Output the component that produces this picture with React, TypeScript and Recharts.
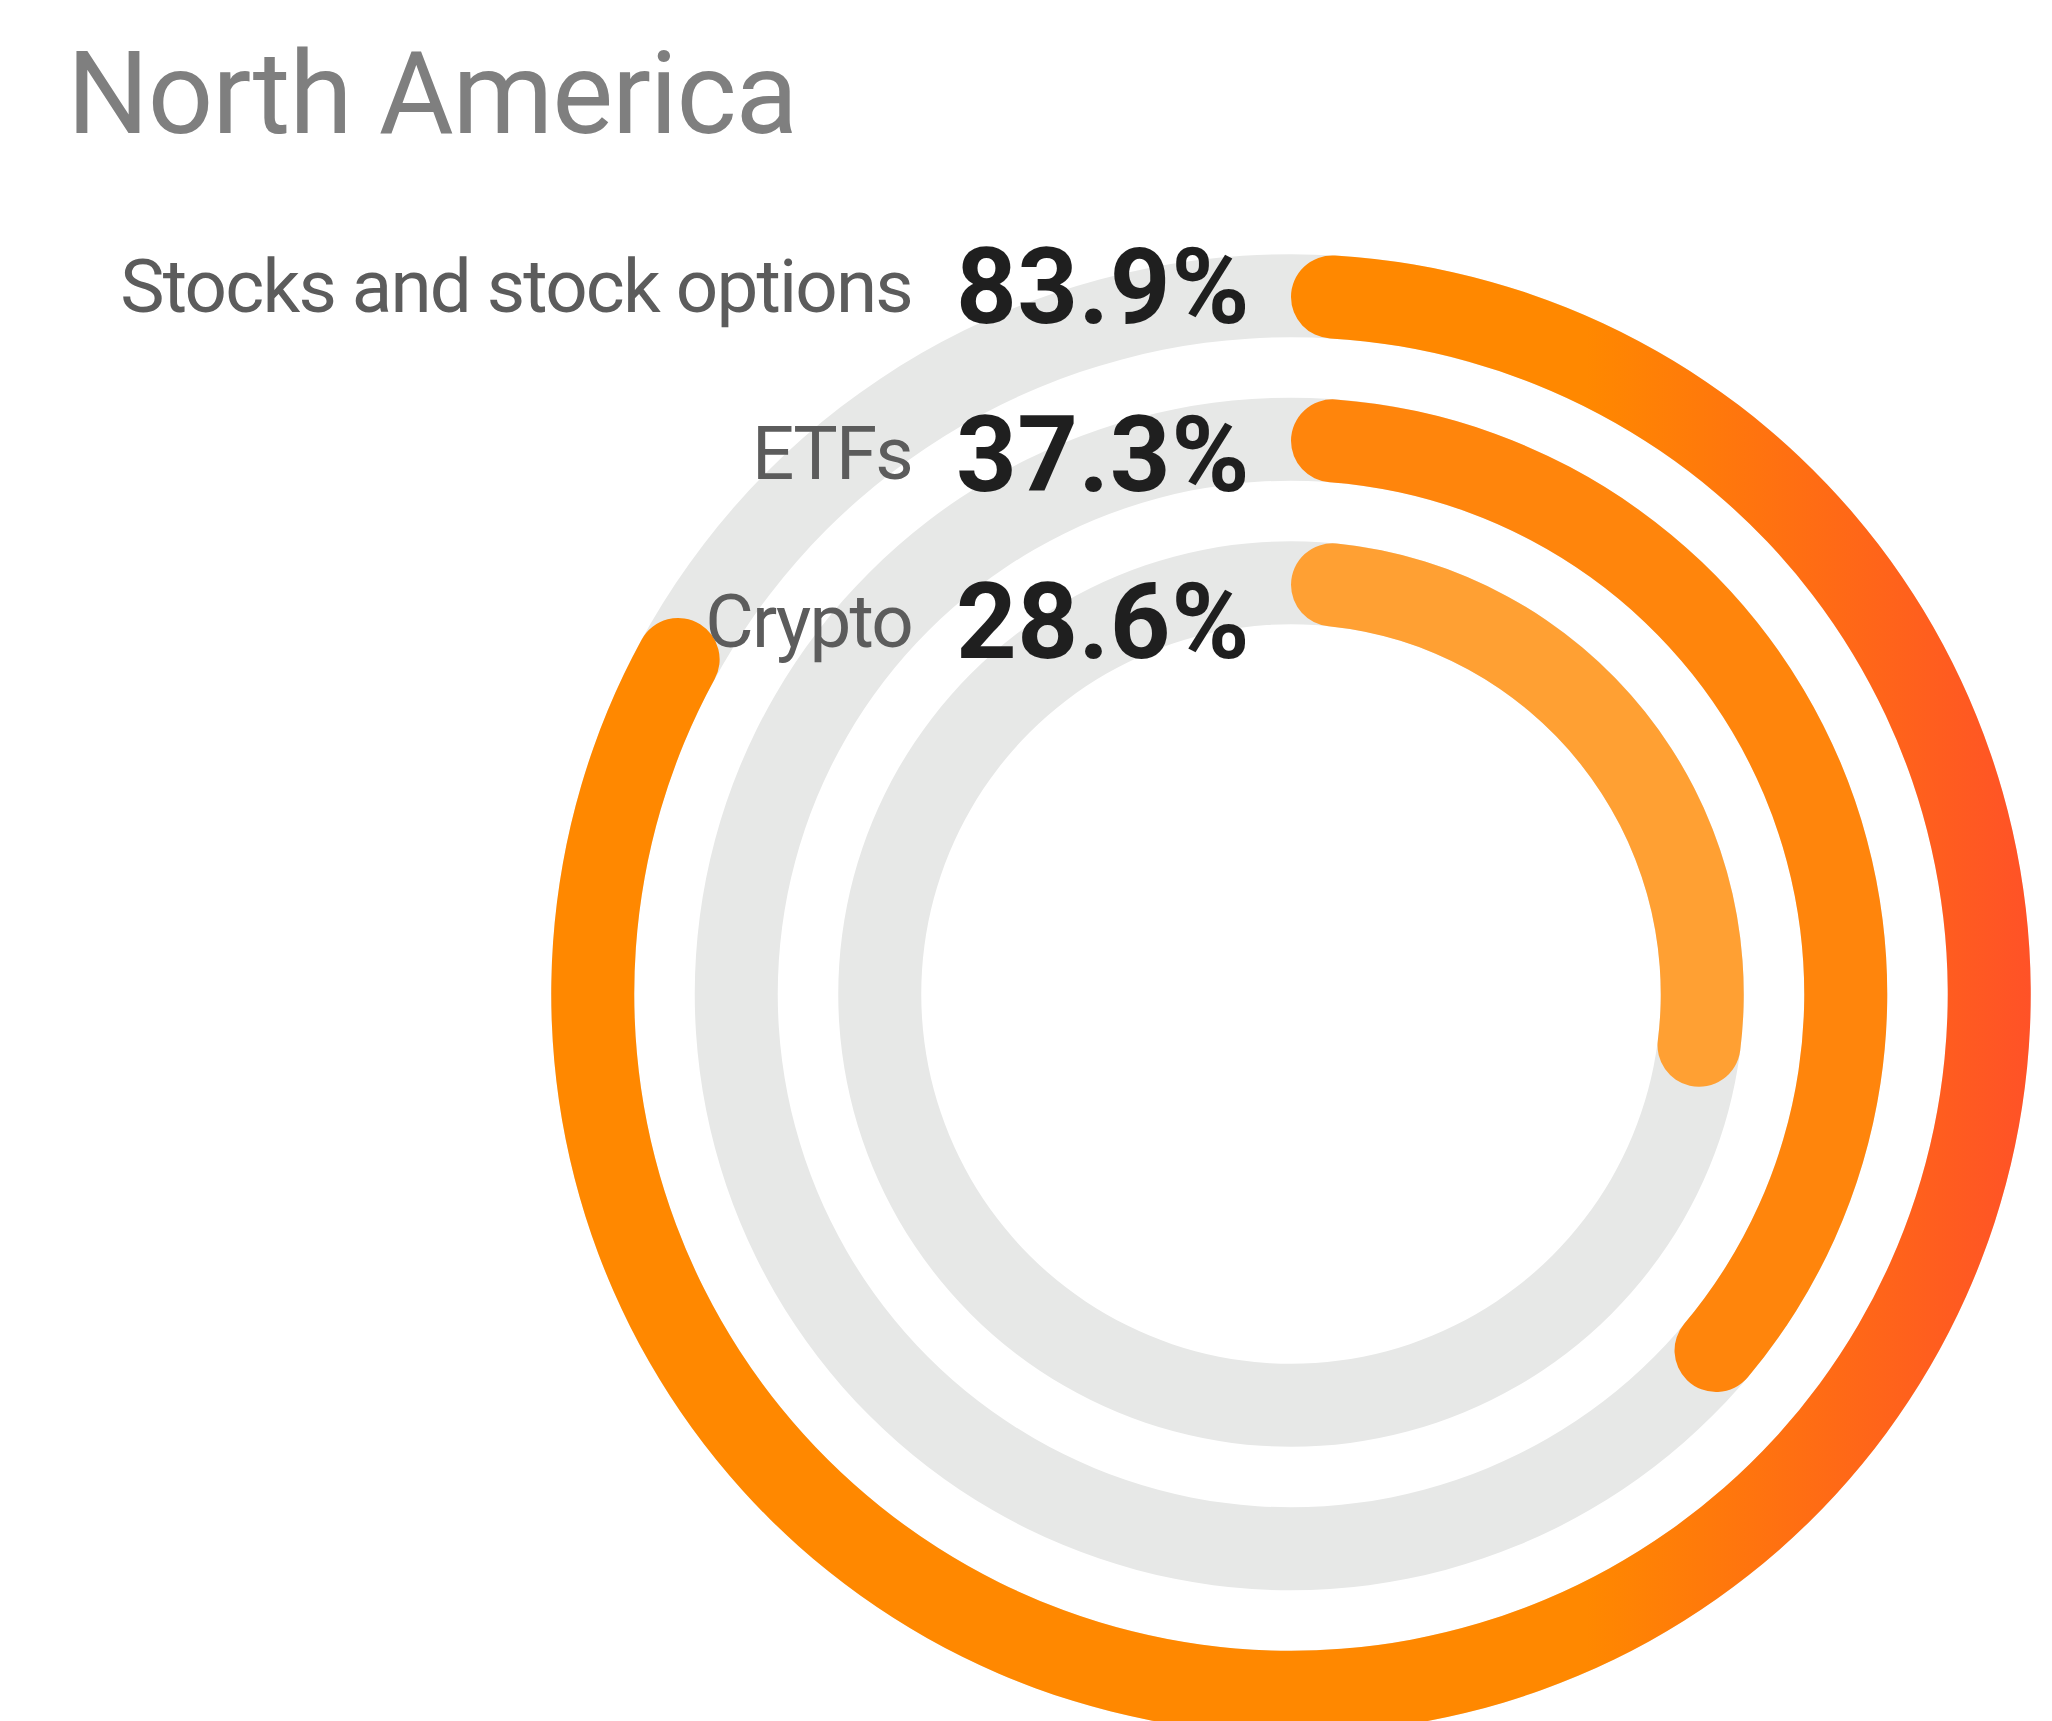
import { RadialBarChart, RadialBar, PolarAngleAxis, Cell } from 'recharts'

const categories = ['Stocks and stock options', 'ETFs', 'Crypto']
const shares = [83.9, 37.3, 28.6]
const shareLabels = ['83.9%', '37.3%', '28.6%']

const ringFills = ['url(#stocksGradient)', '#FF850C', '#FFA033']
const TRACK = '#E7E8E7'
const FONT = 'Roboto, "Noto Sans", sans-serif'

// the radial chart puts the first row innermost, so flip the order
const chartData = categories
  .map((name, i) => ({ name, value: shares[i], fill: ringFills[i] }))
  .reverse()

const W = 2052
const H = 1721

export default function App() {
  return (
    <div style={{ position: 'absolute', left: 0, top: 0, width: W, height: H, overflow: 'hidden', background: '#fff' }}>
      <RadialBarChart
        width={W}
        height={H}
        data={chartData}
        cx={1291}
        cy={994}
        innerRadius={339.75}
        outerRadius={770.25}
        startAngle={90}
        endAngle={-270}
        barSize={83}
        margin={{ top: 0, right: 0, bottom: 0, left: 0 }}
      >
        <defs>
          <linearGradient id="stocksGradient" x1="0" y1="0" x2="1" y2="0">
            <stop offset="0%" stopColor="#FF8800" />
            <stop offset="70%" stopColor="#FF8800" />
            <stop offset="100%" stopColor="#FF5227" />
          </linearGradient>
        </defs>
        <PolarAngleAxis type="number" domain={[0, 100]} tick={false} axisLine={false} />
        <RadialBar
          dataKey="value"
          cornerRadius={41.5}
          background={{ fill: TRACK, cornerRadius: 0 }}
          isAnimationActive={false}
        >
          {chartData.map((d) => (
            <Cell key={d.name} fill={d.fill} />
          ))}
        </RadialBar>
      </RadialBarChart>

      <svg
        width={W}
        height={H}
        style={{ position: 'absolute', left: 0, top: 0, pointerEvents: 'none' }}
      >
        <text x={67} y={133} fontFamily={FONT} fontSize={115} fill="#7F7F7F" letterSpacing={-1.2}>
          North America
        </text>
        {categories.map((name, i) => {
          const mid = 285 + i * 167.5
          return (
            <g key={name}>
              <text
                x={912}
                y={mid + 26.5}
                textAnchor="end"
                fontFamily={FONT}
                fontSize={74.5}
                fill="#5C5C5C"
                letterSpacing={-1.8}
              >
                {name}
              </text>
              <text
                x={1250}
                y={mid + 38}
                textAnchor="end"
                fontFamily={FONT}
                fontSize={106}
                fontWeight={700}
                fill="#1F1F1F"
                letterSpacing={0.5}
              >
                {shareLabels[i]}
              </text>
            </g>
          )
        })}
      </svg>
    </div>
  )
}
